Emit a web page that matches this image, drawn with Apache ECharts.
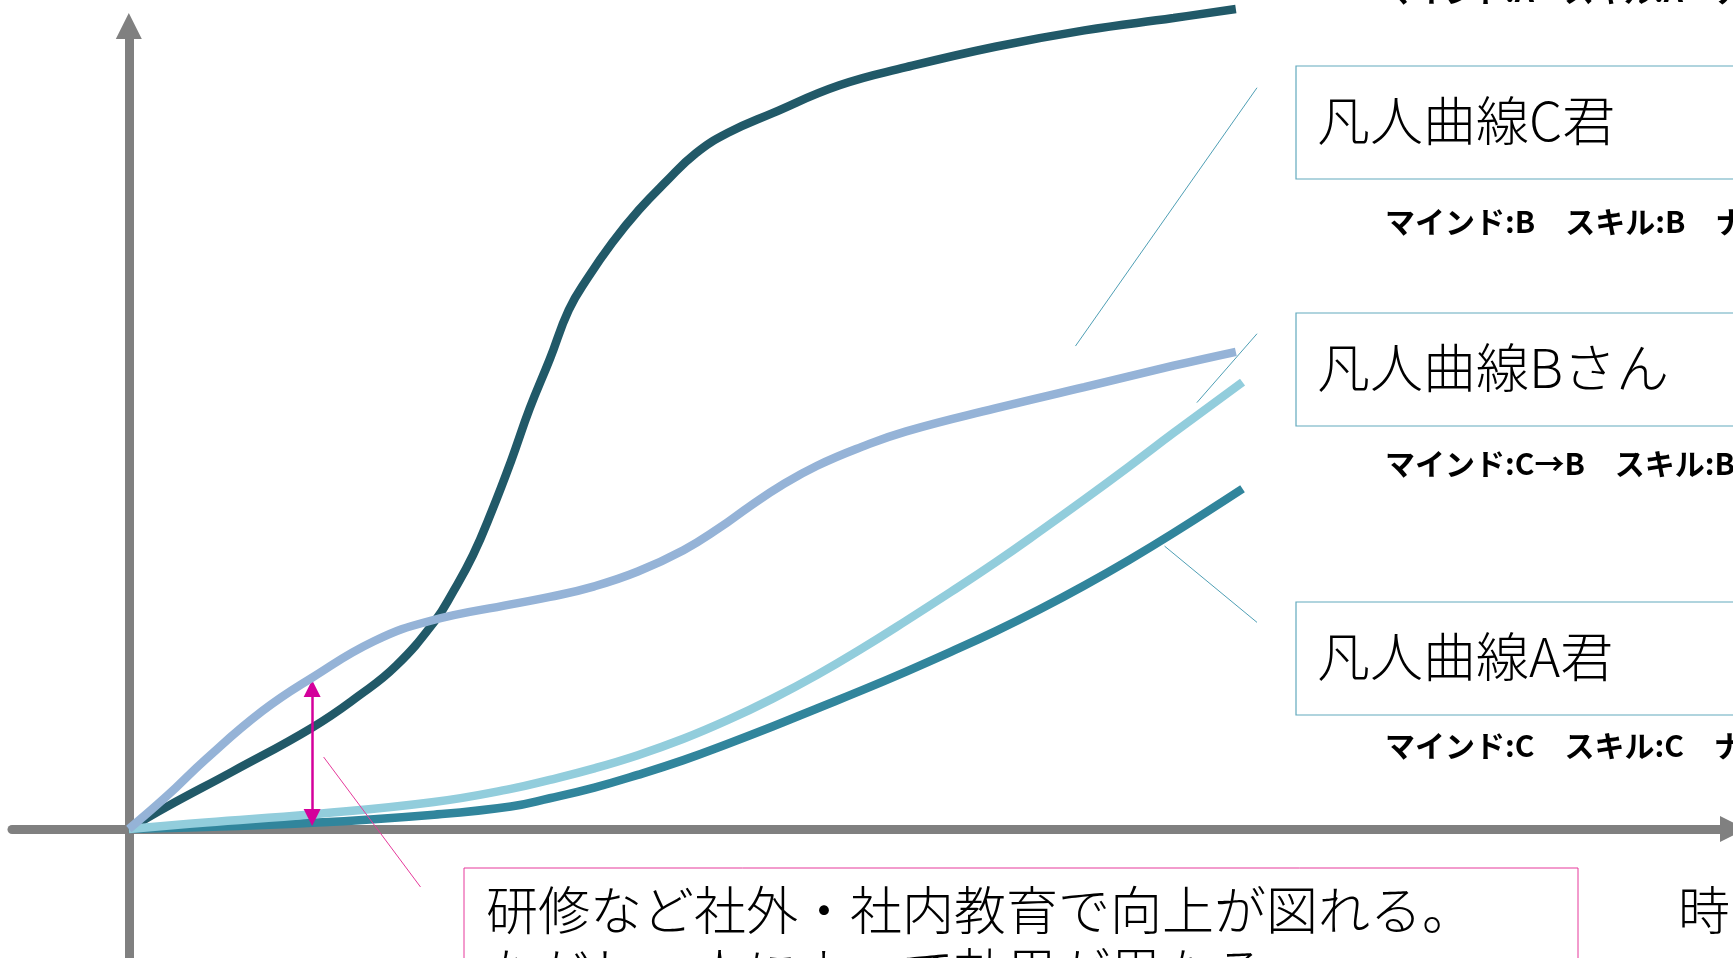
<!DOCTYPE html>
<html><head><meta charset="utf-8">
<script src="https://cdn.jsdelivr.net/npm/echarts@6/dist/echarts.min.js"></script>
<style>html,body{margin:0;padding:0;background:#fff;overflow:hidden}#c{width:1733px;height:958px;}</style>
</head><body><div id="c"></div>
<script>
// ---- data (time units on x, growth units on y) ----
const darkCurve = [[0,0],[3.4,2.7],[9.3,7.0],[16.5,12.4],[20.6,16.2],[24.0,19.9],[27.5,25.4],[29.1,28.9],[30.9,33.4],[32.6,38.8],[34.3,44.8],[36.0,51.3],[37.8,57.3],[39.5,63.3],[41.2,67.2],[43.4,71.5],[45.8,75.5],[48.2,78.9],[50.9,82.4],[53.8,84.9],[57.8,87.3],[63.8,90.7],[69.8,92.9],[77.8,95.4],[85.8,97.4],[93.8,98.9],[99.4,100]];
const purpleCurve = [[0,0],[3.4,4.0],[6.9,8.5],[12.0,14.4],[16.5,18.5],[22.0,22.9],[27.1,25.4],[34.3,27.4],[37.8,28.3],[41.8,29.6],[45.7,31.4],[49.8,34.0],[53.0,36.7],[55.8,39.4],[58.6,41.9],[61.8,44.3],[65.8,46.6],[69.8,48.5],[77.8,51.3],[85.8,53.9],[93.8,56.5],[99.4,58.2]];
const cyanCurve = [[0,0],[6.9,0.8],[16.5,1.8],[27.4,3.3],[34.3,4.9],[37.8,6.0],[41.8,7.4],[45.7,9.0],[49.8,11.0],[53.8,13.3],[57.8,15.9],[61.8,18.8],[65.8,22.0],[69.8,25.4],[73.8,28.9],[77.8,32.5],[81.8,36.3],[85.8,40.2],[89.8,44.2],[93.8,48.3],[100,54.5]];
const tealCurve = [[0,0],[6.9,0.25],[16.5,0.75],[27.4,1.75],[34.3,2.75],[37.8,3.75],[41.8,5.05],[45.7,6.6],[49.8,8.4],[53.8,10.4],[57.8,12.5],[61.8,14.7],[65.8,16.9],[69.8,19.2],[73.8,21.6],[77.8,24.1],[81.8,26.8],[85.8,29.7],[89.8,32.8],[93.8,36.1],[100,41.5]];
// annotation anchors
const gapArrow = [[16.46,1.40],[16.46,17.13]];
const leaderC = [[85.0,58.9],[101.3,90.4]];
const leaderB = [[95.9,52.0],[101.3,60.4]];
const leaderA = [[93.0,34.5],[101.3,25.2]];
const leaderNote = [[17.49,8.78],[26.19,-7.07]];
// texts
const curveTitles = ['凡人曲線C君','凡人曲線Bさん','凡人曲線A君'];
const curveSubs = ['マインド:A　スキル:A　ナレッジ:A','マインド:B　スキル:B　ナレッジ:B','マインド:C→B　スキル:B','マインド:C　スキル:C　ナレッジ:C'];
const noteLines = ['研修など社外・社内教育で向上が図れる。','ただし、人によって効果が異なる。'];
const xAxisTitle = '時間';

const FONT = '"Noto Sans CJK JP", "Noto Sans", sans-serif';
const chart = echarts.init(document.getElementById('c'), null, {renderer:'canvas'});

function curve(name, data, color, z){
  return {type:'line', name, data, smooth:0.45, showSymbol:false, clip:false, z,
    lineStyle:{color, width:8.5, cap:'butt'}, emphasis:{disabled:true}};
}
const leaderStyle = {color:'#4f9fb5', width:1, type:'solid'};
const seg = (p, style) => [{coord:p[0], lineStyle:style},{coord:p[1]}];

const teal = curve('A君', tealCurve, '#31859C', 3);
teal.markLine = {silent:true, symbol:'none', animation:false, label:{show:false},
  lineStyle:leaderStyle,
  data:[seg(leaderC, leaderStyle), seg(leaderB, leaderStyle), seg(leaderA, leaderStyle),
        seg(leaderNote, {color:'#e6399b', width:1, type:'solid'})]};
const gap = {type:'line', name:'gap', data:[], z:6,
  markLine:{silent:true, animation:false, symbol:['triangle','triangle'], symbolSize:[17,17], label:{show:false},
    lineStyle:{color:'#d4009b', width:2.5, type:'solid'},
    data:[[{coord:gapArrow[0]},{coord:gapArrow[1]}]]}};

const boxStroke = '#62a9bd';
function box(top, title){
  return [
    {type:'rect', z:10, shape:{x:1296, y:top, width:520, height:113}, style:{fill:'#fff', stroke:boxStroke, lineWidth:1.2}},
    {type:'text', z:11, x:1317, y:top+55, style:{text:title, font:`300 53px ${FONT}`, fill:'#000', verticalAlign:'middle', align:'left'}}
  ];
}
function sub(y, t){
  return {type:'text', z:11, x:1385, y, style:{text:t, font:`bold 30px ${FONT}`, fill:'#000', verticalAlign:'middle', align:'left'}};
}

const option = {
  animation:false,
  backgroundColor:'#fff',
  grid:{left:12, right:-2, top:26, bottom:0},
  xAxis:{type:'value', min:-10.49, max:144.04,
    axisLine:{onZero:true, lineStyle:{color:'#808080', width:9}, symbol:['none','triangle'], symbolSize:[26,26]},
    axisTick:{show:false}, axisLabel:{show:false}, splitLine:{show:false}},
  yAxis:{type:'value', min:-15.73, max:97.93,
    axisLine:{onZero:true, lineStyle:{color:'#808080', width:9}, symbol:['none','triangle'], symbolSize:[26,26]},
    axisTick:{show:false}, axisLabel:{show:false}, splitLine:{show:false}},
  series:[
    curve('天才曲線', darkCurve, '#215968', 2),
    teal,
    curve('Bさん', cyanCurve, '#92CDDC', 4),
    curve('C君', purpleCurve, '#95B3D7', 5),
    gap
  ],
  graphic:[
    ...box(66, curveTitles[0]),
    ...box(313, curveTitles[1]),
    ...box(602, curveTitles[2]),
    sub(-9, curveSubs[0]),
    sub(222, curveSubs[1]),
    sub(464, curveSubs[2]),
    sub(746, curveSubs[3]),
    {type:'rect', z:10, shape:{x:464, y:868, width:1114, height:200}, style:{fill:'#fff', stroke:'#e6399b', lineWidth:1}},
    {type:'text', z:11, x:486, y:910, style:{text:noteLines[0], font:`300 52px ${FONT}`, fill:'#000', verticalAlign:'middle', align:'left'}},
    {type:'text', z:11, x:486, y:972, style:{text:noteLines[1], font:`300 52px ${FONT}`, fill:'#000', verticalAlign:'middle', align:'left'}},
    {type:'text', z:11, x:1678, y:910, style:{text:xAxisTitle, font:`300 52px ${FONT}`, fill:'#000', verticalAlign:'middle', align:'left'}}
  ]
};
chart.setOption(option);
</script></body></html>
